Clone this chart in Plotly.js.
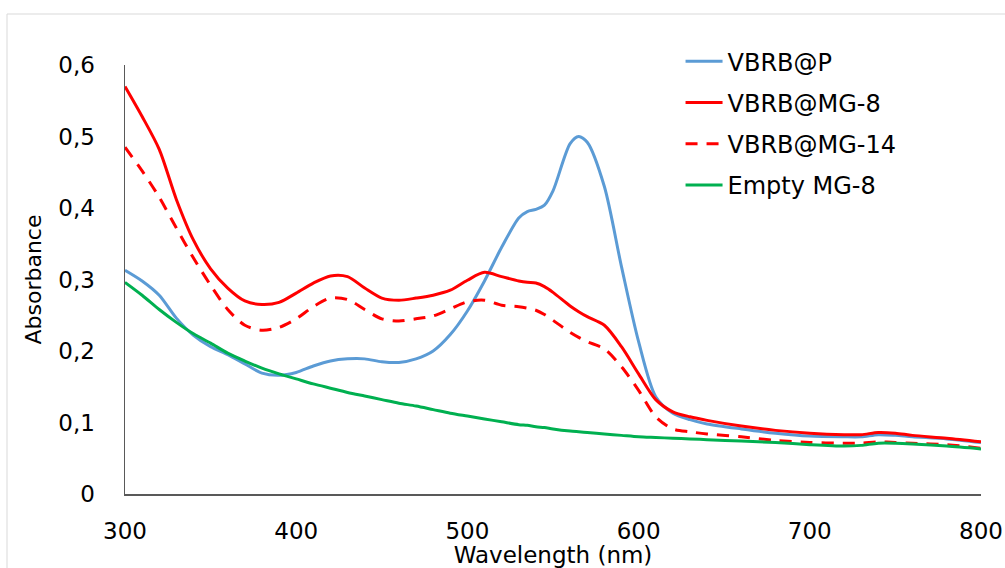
<!DOCTYPE html>
<html>
<head>
<meta charset="utf-8">
<script src="https://cdn.plot.ly/plotly-3.0.1.min.js"></script>
<style>html,body{margin:0;padding:0;background:#fff;}#chart{width:1005px;height:568px;}</style>
</head>
<body>
<div id="chart"></div>
<script>
const wavelength = [300,310,320,330,340,350,360,370,380,390,400,410,420,430,440,450,460,470,480,490,500,510,520,530,535,540,545,550,560,565,570,580,590,600,610,620,630,640,660,680,700,720,730,740,750,760,780,800];

const vbrbP = [0.313,0.298,0.278,0.246,0.222,0.206,0.195,0.182,0.169,0.166,0.170,0.179,0.186,0.189,0.189,0.185,0.184,0.189,0.200,0.223,0.256,0.298,0.345,0.386,0.395,0.398,0.404,0.424,0.490,0.500,0.492,0.430,0.318,0.213,0.136,0.113,0.104,0.098,0.091,0.085,0.081,0.080,0.080,0.083,0.082,0.080,0.077,0.072];

const vbrbMG8 = [0.570,0.528,0.482,0.412,0.355,0.315,0.288,0.270,0.265,0.268,0.281,0.295,0.305,0.304,0.288,0.274,0.271,0.274,0.278,0.285,0.299,0.310,0.304,0.298,0.296,0.295,0.290,0.282,0.263,0.255,0.248,0.236,0.206,0.168,0.132,0.115,0.108,0.103,0.095,0.089,0.085,0.083,0.083,0.086,0.085,0.082,0.078,0.073];

const vbrbMG14 = [0.485,0.452,0.415,0.372,0.330,0.292,0.258,0.236,0.229,0.233,0.245,0.262,0.274,0.272,0.258,0.245,0.242,0.245,0.249,0.259,0.269,0.271,0.264,0.262,0.260,0.257,0.251,0.243,0.226,0.219,0.213,0.203,0.178,0.145,0.108,0.091,0.087,0.084,0.080,0.075,0.072,0.071,0.071,0.073,0.072,0.071,0.069,0.064];

const emptyMG8 = [0.296,0.278,0.258,0.240,0.224,0.211,0.197,0.186,0.176,0.168,0.161,0.154,0.148,0.142,0.137,0.132,0.127,0.123,0.118,0.113,0.109,0.105,0.101,0.097,0.096,0.094,0.093,0.091,0.088,0.087,0.086,0.084,0.082,0.080,0.079,0.078,0.077,0.076,0.074,0.072,0.069,0.067,0.068,0.071,0.071,0.070,0.067,0.063];

const seriesNames = ["VBRB@P","VBRB@MG-8","VBRB@MG-14","Empty MG-8"];
const xTicks = [300,400,500,600,700,800];
const yTicks = [0,0.1,0.2,0.3,0.4,0.5,0.6];
const yTickText = ["0","0,1","0,2","0,3","0,4","0,5","0,6"];

const FONT = "DejaVu Sans, sans-serif";

function tr(y, name, color, dash, g){
  return {x: wavelength, y: y, name: name, type: "scatter", mode: "lines",
    legendgroup: g, line: {color: color, width: 3, dash: dash, shape: "spline", smoothing: 0.8}};
}
const data = [
  tr(vbrbP, seriesNames[0], "#5b9bd5", "solid", "a"),
  tr(vbrbMG8, seriesNames[1], "#ff0000", "solid", "b"),
  tr(vbrbMG14, seriesNames[2], "#ff0000", "12px,9px", "c"),
  tr(emptyMG8, seriesNames[3], "#00b050", "solid", "d")
];

const layout = {
  width: 1005, height: 568,
  margin: {l: 125, r: 24, t: 65, b: 74},
  paper_bgcolor: "#ffffff", plot_bgcolor: "#ffffff",
  font: {family: FONT, size: 22, color: "#000"},
  showlegend: true,
  legend: {x: 0.649, y: 1.06, xanchor: "left", yanchor: "top",
    font: {family: FONT, size: 24, color: "#000"}, tracegroupgap: 7,
    bgcolor: "rgba(0,0,0,0)", itemwidth: 37},
  xaxis: {range: [300, 800], tickvals: xTicks, ticktext: xTicks.map(String),
    showgrid: false, zeroline: false, showline: true, linecolor: "#595959", linewidth: 1.5,
    ticks: "", ticklabelstandoff: 16,
    tickfont: {family: FONT, size: 23, color: "#000"},
    title: {text: "Wavelength (nm)", font: {family: FONT, size: 23, color: "#000"}, standoff: 4}},
  yaxis: {range: [0, 0.6], tickvals: yTicks, ticktext: yTickText,
    showgrid: false, zeroline: false, showline: true, linecolor: "#595959", linewidth: 1.5,
    ticks: "", ticklabelstandoff: 24,
    tickfont: {family: FONT, size: 23, color: "#000"},
    title: {text: "Absorbance", font: {family: FONT, size: 22, color: "#000"}, standoff: 10}},
  shapes: [{type: "rect", xref: "paper", yref: "paper",
    x0: (7-125)/856, x1: 1.1, y0: -0.3, y1: (494-14)/429,
    line: {color: "#d9d9d9", width: 1}, fillcolor: "rgba(0,0,0,0)", layer: "below"}]
};

Plotly.newPlot("chart", data, layout, {displayModeBar: false, staticPlot: true});
</script>
</body>
</html>
